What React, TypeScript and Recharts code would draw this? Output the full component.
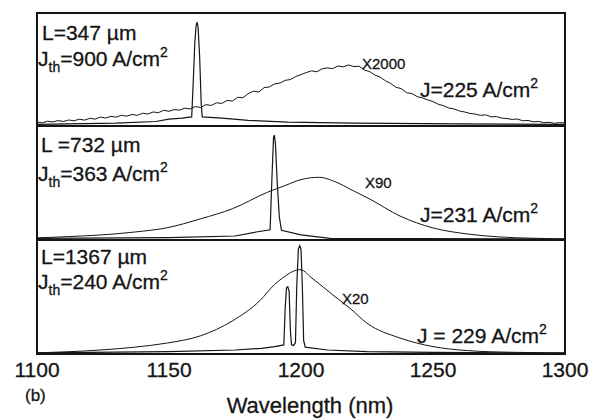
import { LineChart, Line, XAxis, YAxis, ReferenceArea } from "recharts";

type Pt = { w: number; v: number };

const FONT = '"Liberation Sans", Arial, Helvetica, sans-serif';
const INK = "#151515";

const ticksNm = [1100, 1150, 1200, 1250, 1300];

// panel 1, L = 347 um (spontaneous part scaled x2000, noisy)
const laser347: Pt[] = [
  { w: 1100, v: 1.5 }, { w: 1130, v: 2.5 }, { w: 1145, v: 4 }, { w: 1150, v: 6 },
  { w: 1155, v: 7 }, { w: 1158.6, v: 8 }, { w: 1159.2, v: 40 }, { w: 1159.8, v: 75 },
  { w: 1160.3, v: 89 }, { w: 1160.6, v: 92 }, { w: 1161, v: 88 }, { w: 1161.6, v: 62 },
  { w: 1162.2, v: 20 }, { w: 1162.6, v: 8 }, { w: 1170, v: 7 }, { w: 1180, v: 5 },
  { w: 1195, v: 3.5 }, { w: 1220, v: 2.5 }, { w: 1260, v: 1.8 }, { w: 1300, v: 1.5 },
];
const spont347: Pt[] = [
  { w: 1100, v: 3.5 }, { w: 1102, v: 2.8 }, { w: 1104, v: 4.2 }, { w: 1106, v: 3.6 },
  { w: 1108, v: 4.8 }, { w: 1110, v: 4.0 }, { w: 1112, v: 5.3 }, { w: 1114, v: 4.6 },
  { w: 1116, v: 6.0 }, { w: 1118, v: 5.2 }, { w: 1120, v: 6.8 }, { w: 1122, v: 6.1 },
  { w: 1124, v: 7.9 }, { w: 1126, v: 7.0 }, { w: 1128, v: 8.6 }, { w: 1130, v: 7.8 },
  { w: 1132, v: 9.5 }, { w: 1134, v: 8.7 }, { w: 1136, v: 10.2 }, { w: 1138, v: 9.4 },
  { w: 1140, v: 11.3 }, { w: 1142, v: 10.6 }, { w: 1144, v: 12.4 }, { w: 1146, v: 11.8 },
  { w: 1148, v: 13.9 }, { w: 1150, v: 13.0 }, { w: 1152, v: 14.6 }, { w: 1154, v: 14.0 },
  { w: 1156, v: 15.8 }, { w: 1158, v: 15.1 }, { w: 1160, v: 17.2 }, { w: 1162, v: 16.4 },
  { w: 1164, v: 18.9 }, { w: 1166, v: 18.2 }, { w: 1168, v: 20.5 }, { w: 1170, v: 20.0 },
  { w: 1172, v: 22.6 }, { w: 1174, v: 22.1 }, { w: 1176, v: 25.4 }, { w: 1178, v: 25.0 },
  { w: 1180, v: 28.6 }, { w: 1182, v: 30.8 }, { w: 1184, v: 30.1 }, { w: 1186, v: 33.9 },
  { w: 1188, v: 34.6 }, { w: 1190, v: 37.2 }, { w: 1192, v: 38.0 }, { w: 1194, v: 40.4 },
  { w: 1196, v: 41.1 }, { w: 1198, v: 43.8 }, { w: 1200, v: 45.5 }, { w: 1202, v: 47.3 },
  { w: 1204, v: 48.8 }, { w: 1206, v: 48.0 }, { w: 1208, v: 50.6 }, { w: 1210, v: 51.4 },
  { w: 1212, v: 50.8 }, { w: 1214, v: 53.1 }, { w: 1216, v: 52.4 }, { w: 1218, v: 54.0 },
  { w: 1220, v: 52.6 }, { w: 1222, v: 52.9 }, { w: 1224, v: 49.5 }, { w: 1226, v: 48.2 },
  { w: 1228, v: 45.1 }, { w: 1230, v: 43.3 }, { w: 1232, v: 40.0 }, { w: 1234, v: 37.6 },
  { w: 1236, v: 34.2 }, { w: 1238, v: 33.1 }, { w: 1240, v: 29.4 }, { w: 1242, v: 28.7 },
  { w: 1244, v: 26.0 }, { w: 1246, v: 24.8 }, { w: 1248, v: 23.1 }, { w: 1250, v: 21.6 },
  { w: 1252, v: 19.2 }, { w: 1254, v: 18.0 }, { w: 1256, v: 15.9 }, { w: 1258, v: 15.1 },
  { w: 1260, v: 13.3 }, { w: 1262, v: 12.4 }, { w: 1264, v: 11.1 }, { w: 1266, v: 10.6 },
  { w: 1268, v: 9.4 }, { w: 1270, v: 9.9 }, { w: 1272, v: 8.1 }, { w: 1274, v: 8.4 },
  { w: 1276, v: 7.0 }, { w: 1278, v: 6.6 }, { w: 1280, v: 5.8 }, { w: 1282, v: 6.2 },
  { w: 1284, v: 4.6 }, { w: 1286, v: 4.9 }, { w: 1288, v: 3.7 }, { w: 1290, v: 4.1 },
  { w: 1292, v: 2.9 }, { w: 1294, v: 3.3 }, { w: 1296, v: 2.4 }, { w: 1298, v: 3.0 },
  { w: 1300, v: 2.7 },
];

// panel 2, L = 732 um (spontaneous x90)
const laser732: Pt[] = [
  { w: 1100, v: 1.5 }, { w: 1150, v: 2 }, { w: 1175, v: 3.5 }, { w: 1183, v: 7 },
  { w: 1188.3, v: 9 }, { w: 1189.0, v: 55 }, { w: 1189.6, v: 90 }, { w: 1189.9, v: 92 },
  { w: 1190.3, v: 85 }, { w: 1191.0, v: 50 }, { w: 1191.8, v: 20 }, { w: 1192.6, v: 8.5 },
  { w: 1200, v: 4.5 }, { w: 1211, v: 1.5 }, { w: 1300, v: 0.8 },
];
const spont732: Pt[] = [
  { w: 1100, v: 1.8 }, { w: 1112, v: 3 }, { w: 1124, v: 4.4 }, { w: 1137, v: 7 },
  { w: 1149, v: 10.6 }, { w: 1162, v: 18.6 }, { w: 1174, v: 27.4 }, { w: 1187, v: 41.6 },
  { w: 1194, v: 47.8 }, { w: 1200, v: 53 }, { w: 1207, v: 55 }, { w: 1212, v: 52 },
  { w: 1220, v: 43 }, { w: 1226, v: 36 }, { w: 1237.5, v: 21 }, { w: 1250, v: 10.6 },
  { w: 1263, v: 5.3 }, { w: 1275, v: 2.7 }, { w: 1300, v: 1 },
];

// panel 3, L = 1367 um (spontaneous x20)
const laser1367: Pt[] = [
  { w: 1100, v: 1 }, { w: 1150, v: 2 }, { w: 1175, v: 3.5 }, { w: 1185, v: 5 },
  { w: 1190, v: 6.5 }, { w: 1193.5, v: 8 }, { w: 1194.0, v: 40 }, { w: 1194.5, v: 58 },
  { w: 1195.0, v: 59 }, { w: 1195.5, v: 55 }, { w: 1196.0, v: 20 }, { w: 1196.4, v: 8 },
  { w: 1197.2, v: 7.5 }, { w: 1197.9, v: 10 }, { w: 1198.4, v: 60 }, { w: 1199.0, v: 92 },
  { w: 1199.5, v: 95 }, { w: 1200.0, v: 92 }, { w: 1200.5, v: 60 }, { w: 1201.0, v: 12 },
  { w: 1201.6, v: 6 }, { w: 1210, v: 3.5 }, { w: 1225, v: 2 }, { w: 1250, v: 1.5 },
  { w: 1300, v: 0.8 },
];
const spont1367: Pt[] = [
  { w: 1100, v: 1 }, { w: 1112, v: 2 }, { w: 1124, v: 3.5 }, { w: 1137, v: 6 },
  { w: 1149, v: 9.5 }, { w: 1162, v: 16 }, { w: 1174, v: 29 }, { w: 1184.5, v: 47 },
  { w: 1190, v: 61 }, { w: 1193.2, v: 67 }, { w: 1197, v: 72.5 }, { w: 1199.6, v: 74 },
  { w: 1201, v: 73 }, { w: 1203.4, v: 68 }, { w: 1207.2, v: 61 }, { w: 1212.5, v: 51 },
  { w: 1218.6, v: 40 }, { w: 1225, v: 27 }, { w: 1237.5, v: 14 }, { w: 1250, v: 6.5 },
  { w: 1263, v: 3 }, { w: 1280, v: 1.5 }, { w: 1300, v: 1 },
];

type PanelProps = {
  top: number;
  h: number;
  laser: Pt[];
  spont: Pt[];
  smooth: boolean;
  bottom?: boolean;
};

function Panel({ top, h, laser, spont, smooth, bottom }: PanelProps) {
  const extra = bottom ? 40 : 0;
  return (
    <div style={{ position: "absolute", left: 0, top: top - 5 }}>
      <LineChart width={601} height={h + 10 + extra} margin={{ top: 5, right: 36, bottom: 5, left: 37 }}>
        <XAxis
          type="number"
          dataKey="w"
          domain={[1100, 1300]}
          ticks={ticksNm}
          mirror
          height={0}
          tick={false}
          tickSize={5}
          axisLine={false}
          tickLine={{ stroke: INK }}
          allowDataOverflow
        />
        {bottom && (
          <XAxis
            xAxisId="lbl"
            type="number"
            dataKey="w"
            domain={[1100, 1300]}
            ticks={ticksNm}
            height={extra}
            axisLine={false}
            tickLine={false}
            tickSize={0}
            tickMargin={8}
            allowDataOverflow
            tick={{ fontSize: 21, fill: INK, fontFamily: FONT, stroke: INK, strokeWidth: 0.3 }}
          />
        )}
        <YAxis hide domain={[0, 100]} allowDataOverflow />
        <ReferenceArea x1={1100} x2={1300} y1={0} y2={100} fill="none" stroke={INK} strokeWidth={2} />
        <Line
          data={spont}
          dataKey="v"
          xAxisId={bottom ? "lbl" : 0}
          type={smooth ? "monotone" : "linear"}
          stroke={INK}
          strokeWidth={1}
          dot={false}
          isAnimationActive={false}
        />
        <Line data={laser} dataKey="v" type="linear" stroke={INK} strokeWidth={1.2} dot={false} isAnimationActive={false} />
      </LineChart>
    </div>
  );
}

function JthLabel({ x, y, val }: { x: number; y: number; val: string }) {
  return (
    <text x={x} y={y} fontSize={21}>
      J
      <tspan fontSize={14} dy={6}>th</tspan>
      <tspan dy={-6}>{`=${val} A/cm`}</tspan>
      <tspan fontSize={14} dy={-9}>2</tspan>
    </text>
  );
}

function JLabel({ x, y, text }: { x: number; y: number; text: string }) {
  return (
    <text x={x} y={y} fontSize={21}>
      {text}
      <tspan fontSize={14} dy={-9}>2</tspan>
    </text>
  );
}

export default function App() {
  return (
    <div style={{ position: "absolute", left: 0, top: 0, width: 601, height: 420, background: "#fff", fontFamily: FONT }}>
      <Panel top={13} h={113} laser={laser347} spont={spont347} smooth={false} />
      <Panel top={126} h={114} laser={laser732} spont={spont732} smooth />
      <Panel top={240} h={114} laser={laser1367} spont={spont1367} smooth bottom />
      <svg
        width={601}
        height={420}
        style={{ position: "absolute", left: 0, top: 0, pointerEvents: "none" }}
        fill={INK}
        stroke={INK}
        strokeWidth={0.3}
        fontFamily={FONT}
      >
        <text x={42} y={40} fontSize={21}>L=347 µm</text>
        <JthLabel x={38} y={66} val="900" />
        <text x={362} y={69} fontSize={15}>X2000</text>
        <JLabel x={420} y={97} text="J=225 A/cm" />

        <text x={41} y={152} fontSize={21}>L =732 µm</text>
        <JthLabel x={38} y={181} val="363" />
        <text x={365} y={188} fontSize={15}>X90</text>
        <JLabel x={420} y={222} text="J=231 A/cm" />

        <text x={41} y={264} fontSize={21}>L=1367 µm</text>
        <JthLabel x={38} y={289} val="240" />
        <text x={342} y={304} fontSize={15}>X20</text>
        <JLabel x={417} y={343} text="J = 229 A/cm" />

        <text x={25} y={401} fontSize={17}>(b)</text>
        <text x={310} y={413} fontSize={22} textAnchor="middle">Wavelength (nm)</text>
      </svg>
    </div>
  );
}
